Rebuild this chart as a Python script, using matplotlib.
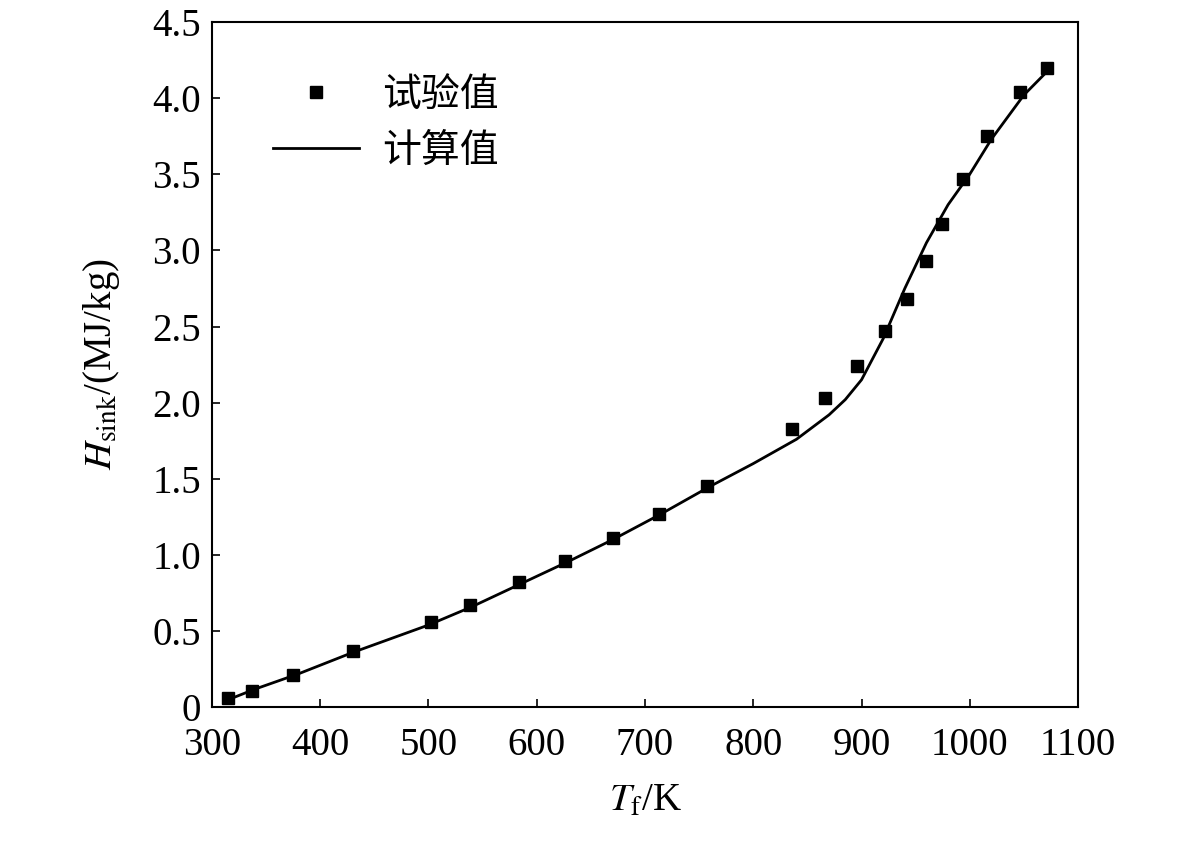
import matplotlib.pyplot as plt
from matplotlib.ticker import FuncFormatter

plt.rcParams['font.family'] = ['Liberation Serif', 'Noto Sans CJK SC']
plt.rcParams['mathtext.fontset'] = 'stix'

exp_T = [315, 337, 375, 430, 502, 538, 584, 626, 670, 713, 757, 836, 866, 896,
         922, 942, 960, 974, 994, 1016, 1046, 1071]
exp_H = [0.06, 0.11, 0.21, 0.37, 0.56, 0.67, 0.82, 0.96, 1.11, 1.27, 1.45, 1.83,
         2.03, 2.24, 2.47, 2.68, 2.93, 3.17, 3.47, 3.75, 4.04, 4.20]
calc_T = [315, 340, 380, 430, 500, 540, 585, 630, 670, 715, 760, 800, 840, 870,
          885, 900, 920, 940, 960, 980, 1000, 1020, 1050, 1075]
calc_H = [0.05, 0.12, 0.22, 0.36, 0.54, 0.66, 0.81, 0.96, 1.10, 1.27, 1.45, 1.60,
          1.76, 1.92, 2.02, 2.15, 2.42, 2.75, 3.05, 3.30, 3.50, 3.73, 4.02, 4.20]

fig = plt.figure(figsize=(11.81, 8.42), dpi=100)
ax = fig.add_axes([0.1795, 0.160, 0.7333, 0.814])
ax.plot(exp_T, exp_H, 's', color='black', markersize=9, label='试验值')
ax.plot(calc_T, calc_H, '-', color='black', linewidth=2, label='计算值')

ax.set_xlim(300, 1100)
ax.set_ylim(0, 4.5)
ax.set_xticks(range(300, 1101, 100))
ax.set_yticks([i * 0.5 for i in range(10)])
ax.yaxis.set_major_formatter(FuncFormatter(lambda v, p: '0' if v == 0 else f'{v:.1f}'))
ax.tick_params(direction='in', labelsize=28, length=6, width=1.2)
ax.tick_params(axis='x', pad=14)
ax.tick_params(axis='y', pad=8)
for s in ax.spines.values():
    s.set_linewidth(1.5)

ax.set_xlabel(r'$T_\mathrm{f}$/K', fontsize=28, labelpad=14)
ax.set_ylabel(r'$H_\mathrm{sink}$/(MJ/kg)', fontsize=28, labelpad=22)
ax.legend(loc='upper left', frameon=False, fontsize=28, handlelength=2.2,
          handletextpad=0.6, bbox_to_anchor=(0.03, 0.97))

fig.savefig('out.png', dpi=100)
